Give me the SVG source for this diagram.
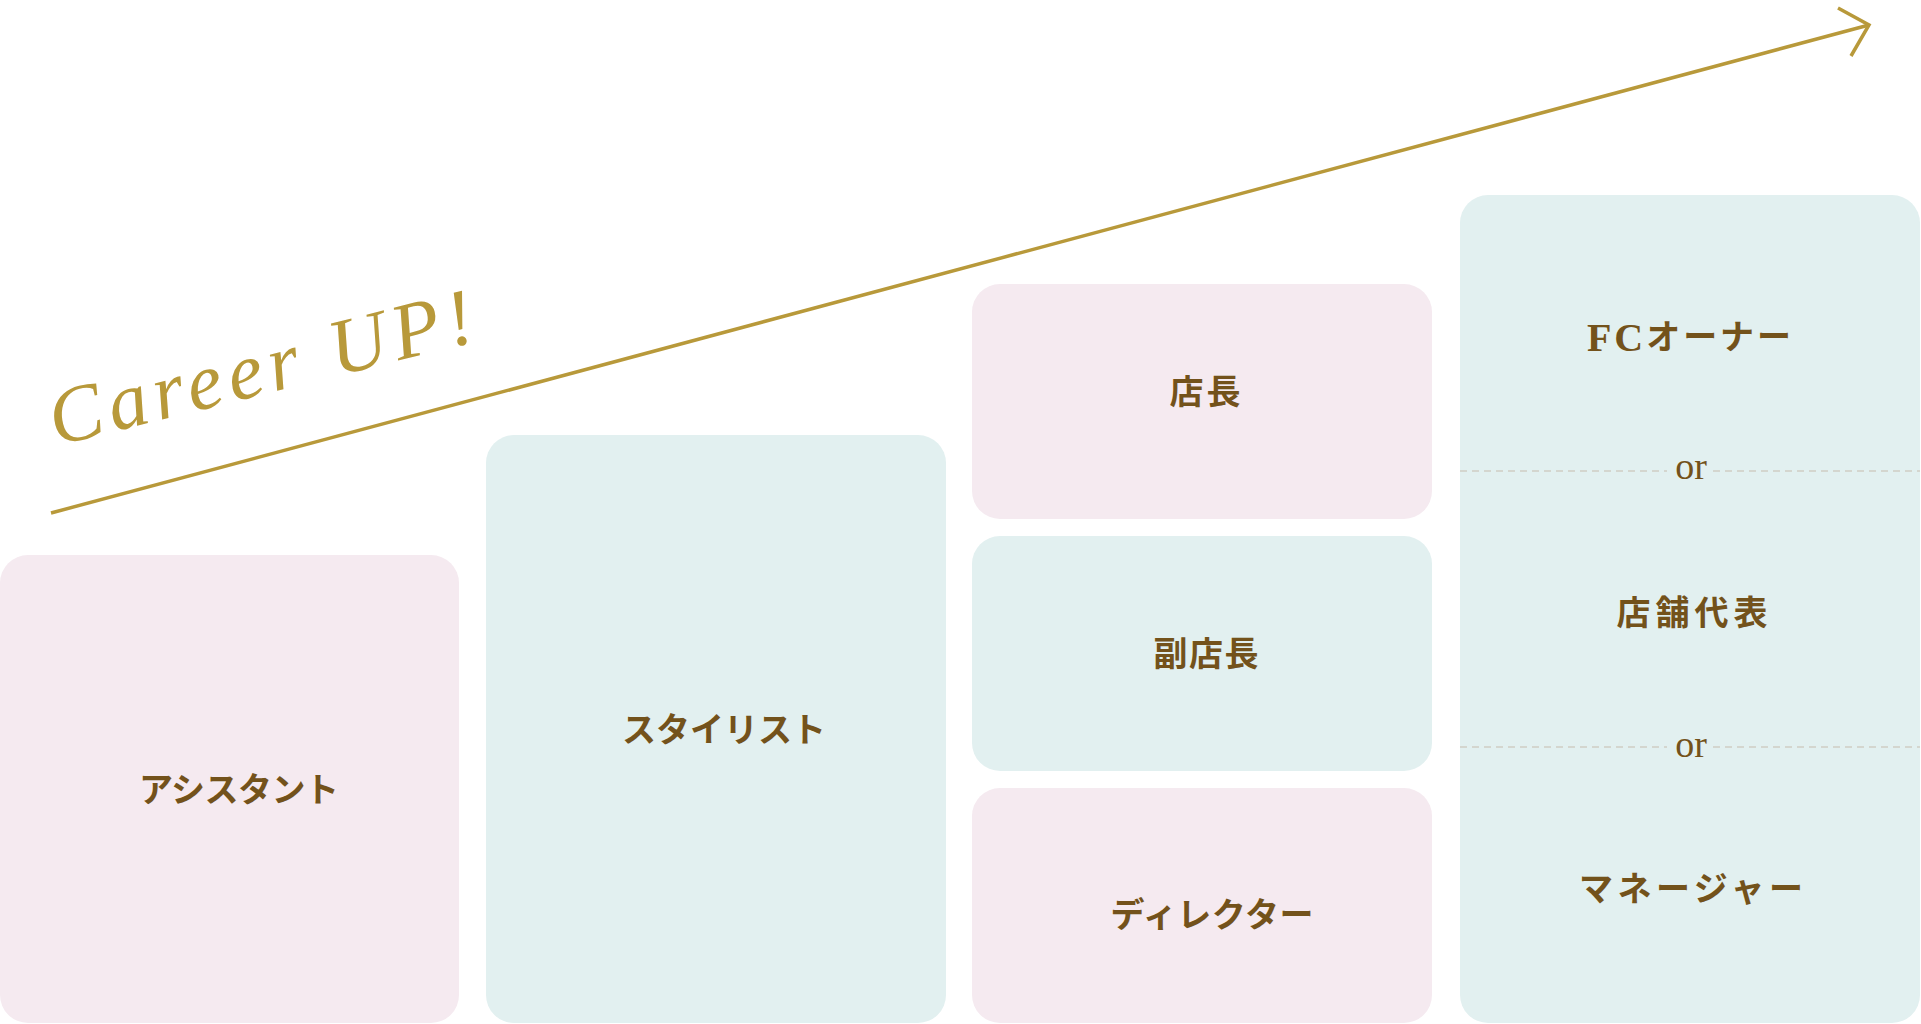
<svg xmlns="http://www.w3.org/2000/svg" width="1921" height="1024" viewBox="0 0 1921 1024">
  <style>
    .pink { fill: #f5eaf0; }
    .teal { fill: #e2f0f0; }
    .lbl { font-family: "Liberation Serif", "Noto Sans CJK JP", serif; font-size: 34px; font-weight: 700; fill: #73521b; text-anchor: middle; dominant-baseline: central; }
    .or { font-family: "Liberation Serif", serif; font-size: 38px; fill: #73521b; text-anchor: middle; }
    .dash { stroke: #cfcdc4; stroke-width: 1.5; stroke-dasharray: 7 5; fill: none; }
    .gold { stroke: #b8993a; stroke-width: 3.5; fill: none; }
    .script { font-family: "Liberation Serif", serif; font-style: italic; font-size: 80px; fill: #b8993a; }
  </style>
  <rect width="1921" height="1024" fill="#ffffff"/>

  <g id="connectors">
    <line class="gold" x1="51" y1="513" x2="1869" y2="25"/>
    <polyline class="gold" points="1838,8 1869,25 1851,56" stroke-linejoin="miter"/>
  </g>

  <g id="career-up">
    <text class="script" transform="translate(56,446) rotate(-14)" textLength="435" lengthAdjust="spacing">Career UP!</text>
  </g>

  <g id="node-assistant">
    <rect class="pink" x="0" y="555" width="459" height="468" rx="28"/>
    <text class="lbl" x="239" y="790" textLength="200" lengthAdjust="spacing">アシスタント</text>
  </g>

  <g id="node-stylist">
    <rect class="teal" x="486" y="435" width="460" height="588" rx="28"/>
    <text class="lbl" x="724" y="730" textLength="204" lengthAdjust="spacing">スタイリスト</text>
  </g>

  <g id="node-tencho">
    <rect class="pink" x="972" y="284" width="460" height="235" rx="28"/>
    <text class="lbl" x="1205" y="392" textLength="71" lengthAdjust="spacing">店長</text>
  </g>

  <g id="node-fukutencho">
    <rect class="teal" x="972" y="536" width="460" height="235" rx="28"/>
    <text class="lbl" x="1206" y="654" textLength="105" lengthAdjust="spacing">副店長</text>
  </g>

  <g id="node-director">
    <rect class="pink" x="972" y="788" width="460" height="235" rx="28"/>
    <text class="lbl" x="1212" y="915" textLength="203" lengthAdjust="spacing">ディレクター</text>
  </g>

  <g id="node-top">
    <rect class="teal" x="1460" y="195" width="460" height="828" rx="28"/>
    <text class="lbl" x="1689" y="337" textLength="204" lengthAdjust="spacing"><tspan font-size="40">FC</tspan>オーナー</text>
    <line class="dash" x1="1460" y1="471" x2="1667" y2="471"/>
    <line class="dash" x1="1713" y1="471" x2="1920" y2="471"/>
    <text class="or" x="1691" y="479">or</text>
    <text class="lbl" x="1692" y="613" textLength="151" lengthAdjust="spacing">店舗代表</text>
    <line class="dash" x1="1460" y1="747" x2="1667" y2="747"/>
    <line class="dash" x1="1713" y1="747" x2="1920" y2="747"/>
    <text class="or" x="1691" y="757">or</text>
    <text class="lbl" x="1691" y="889" textLength="224" lengthAdjust="spacing">マネージャー</text>
  </g>
</svg>
